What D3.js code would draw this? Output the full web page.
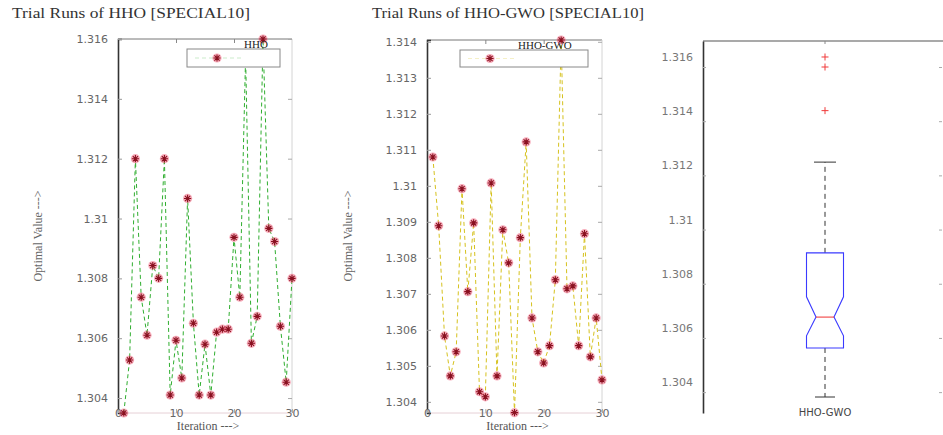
<!DOCTYPE html>
<html>
<head>
<meta charset="utf-8">
<script src="https://cdn.jsdelivr.net/npm/d3@7"></script>
<style>
  body { margin: 0; background: #fff; }
  svg { display: block; }
</style>
</head>
<body>
<svg id="chart" width="943" height="435"></svg>
<script>
// ---------- DATA ----------
const iterations = d3.range(1, 31);
const hhoValues = [1.3035, 1.30527, 1.3120, 1.30737, 1.3061, 1.30843, 1.3080, 1.3120, 1.3041, 1.30593,
                   1.30467, 1.31067, 1.3065, 1.3041, 1.3058, 1.3041, 1.3062, 1.3063, 1.3063, 1.30937,
                   1.30737, 1.3154, 1.30583, 1.30673, 1.3160, 1.30967, 1.30923, 1.3064, 1.30453, 1.3080];
const hhoGwoValues = [1.3108, 1.30889, 1.30583, 1.30472, 1.30539, 1.30992, 1.30706, 1.30897, 1.30428, 1.30414,
                      1.31008, 1.30472, 1.30878, 1.30786, 1.3037, 1.30856, 1.31122, 1.30633, 1.30539, 1.30508,
                      1.30556, 1.30739, 1.31405, 1.30714, 1.30722, 1.30556, 1.30867, 1.30525, 1.30633, 1.30461];
const hhoYTicks = [1.304, 1.306, 1.308, 1.310, 1.312, 1.314, 1.316];
const gwoYTicks = [1.304, 1.305, 1.306, 1.307, 1.308, 1.309, 1.310, 1.311, 1.312, 1.313, 1.314];
const boxYTicks = [1.304, 1.306, 1.308, 1.310, 1.312, 1.314, 1.316];
const xTicks = [0, 10, 20, 30];
const boxCategory = ["HHO-GWO"];
// boxplot statistics
const boxWhiskerLow = [1.30345];
const boxQ1 = [1.30526];
const boxNotchLow = [1.30571];
const boxMedian = [1.30640];
const boxNotchHigh = [1.30715];
const boxQ3 = [1.30877];
const boxWhiskerHigh = [1.31212];
const boxOutliers = [1.3160, 1.31563, 1.31402];
const titles = ["Trial Runs of HHO [SPECIAL10]", "Trial Runs of HHO-GWO [SPECIAL10]"];
const legendNames = ["HHO", "HHO-GWO"];

// ---------- DRAW ----------
const svg = d3.select("#chart");
svg.append("rect").attr("width", 943).attr("height", 435).attr("fill", "#fff");

const fmt = d => {
  let s = d.toFixed(3);
  s = s.replace(/0+$/, "");
  return s;
};
const tickFont = "'DejaVu Sans', sans-serif";
const serif = "'Liberation Serif', 'DejaVu Serif', serif";

function drawMarker(g, x, y) {
  g.append("circle").attr("cx", x).attr("cy", y).attr("r", 4.6)
    .attr("fill", "#f06a84").attr("opacity", 0.55);
  const r = 3.6, d = r * 0.72;
  const p = `M${x - r},${y}L${x + r},${y}M${x},${y - r}L${x},${y + r}` +
            `M${x - d},${y - d}L${x + d},${y + d}M${x - d},${y + d}L${x + d},${y - d}`;
  g.append("path").attr("d", p).attr("stroke", "#8a1020").attr("stroke-width", 1.1).attr("fill", "none");
}

function linePanel(opts) {
  const { values, x0, x1, yTop, yBot, yDomain, yTicks, color, title, titleX, titleLen, legendName, legend, ylabX } = opts;
  const x = d3.scaleLinear().domain([0, 30]).range([x0, x1]);
  const y = d3.scaleLinear().domain(yDomain).range([yBot, yTop]);
  const g = svg.append("g");

  // frame
  g.append("line").attr("x1", x0).attr("x2", x1).attr("y1", yTop).attr("y2", yTop).attr("stroke", "#777").attr("stroke-width", 1);
  g.append("line").attr("x1", x1).attr("x2", x1).attr("y1", yTop).attr("y2", yBot).attr("stroke", "#d4d4d4").attr("stroke-width", 1);
  g.append("line").attr("x1", x0).attr("x2", x1).attr("y1", yBot).attr("y2", yBot).attr("stroke", "#e6d0d6").attr("stroke-width", 1);

  // y axis
  const yAxis = d3.axisLeft(y).tickValues(yTicks).tickFormat(fmt).tickSize(-4).tickPadding(10);
  const ya = g.append("g").attr("transform", `translate(${x0},0)`).call(yAxis);
  ya.select(".domain").attr("stroke", "#333").attr("stroke-width", 1.6);
  ya.selectAll(".tick line").attr("stroke", "#999");
  ya.selectAll("text").attr("fill", "#666").style("font-family", tickFont).style("font-size", "11px");
  // right ticks
  const yr = g.append("g").attr("transform", `translate(${x1},0)`)
    .call(d3.axisRight(y).tickValues(yTicks).tickFormat("").tickSize(-4));
  yr.select(".domain").remove();
  yr.selectAll(".tick line").attr("stroke", "#aaa");

  // x axis labels
  const xa = g.append("g").attr("transform", `translate(0,${yBot})`)
    .call(d3.axisBottom(x).tickValues(xTicks).tickFormat(d3.format("d")).tickSize(-4).tickPadding(-4));
  xa.select(".domain").remove();
  xa.selectAll(".tick line").attr("stroke", "#aaa");
  xa.selectAll("text").attr("fill", "#666").style("font-family", tickFont).style("font-size", "11px");
  // top ticks
  const xt = g.append("g").attr("transform", `translate(0,${yTop})`)
    .call(d3.axisTop(x).tickValues([10, 20]).tickFormat("").tickSize(-4));
  xt.select(".domain").remove();
  xt.selectAll(".tick line").attr("stroke", "#888");

  // series line
  const line = d3.line().x((d, i) => x(iterations[i])).y(d => y(d));
  g.append("path").datum(values).attr("d", line)
    .attr("fill", "none").attr("stroke", color).attr("stroke-width", 1).attr("stroke-dasharray", "4,3");
  values.forEach((v, i) => drawMarker(g, x(iterations[i]), y(v)));

  // legend
  g.append("rect").attr("x", legend[0]).attr("y", legend[1]).attr("width", legend[2]).attr("height", legend[3])
    .attr("fill", "#fff").attr("stroke", "#888").attr("stroke-width", 1);
  g.append("line").attr("x1", legend[0] + 8).attr("x2", legend[4] + 24).attr("y1", legend[1] + legend[3] / 2).attr("y2", legend[1] + legend[3] / 2)
    .attr("stroke", color).attr("stroke-opacity", 0.25).attr("stroke-dasharray", "4,3");
  drawMarker(g, legend[4], legend[1] + legend[3] / 2);
  g.append("text").attr("x", legend[5]).attr("y", legend[1] - 1)
    .attr("fill", "#222").style("font-family", serif).style("font-size", "11px").text(legendName);

  // title
  g.append("text").attr("x", titleX).attr("y", 18).attr("textLength", titleLen).attr("lengthAdjust", "spacingAndGlyphs")
    .attr("fill", "#333").style("font-family", serif).style("font-size", "14px").text(title);
  // axis labels
  g.append("text").attr("transform", `translate(${ylabX},236) rotate(-90)`).attr("text-anchor", "middle")
    .attr("fill", "#666").style("font-family", serif).style("font-size", "12px").text("Optimal Value --->");
  g.append("text").attr("x", (x0 + x1) / 2 + 3).attr("y", 430).attr("text-anchor", "middle")
    .attr("fill", "#555").style("font-family", serif).style("font-size", "12px").text("Iteration --->");
}

linePanel({
  values: hhoValues, x0: 118, x1: 292, yTop: 39, yBot: 413, yDomain: [1.3035, 1.316],
  yTicks: hhoYTicks, color: "#2fae2f", title: titles[0], titleX: 12, titleLen: 238,
  legendName: legendNames[0], legend: [187, 49, 93, 18, 217, 244], ylabX: 42
});
linePanel({
  values: hhoGwoValues, x0: 427, x1: 602, yTop: 40, yBot: 413, yDomain: [1.30369, 1.31405],
  yTicks: gwoYTicks, color: "#d6c21e", title: titles[1], titleX: 372, titleLen: 272,
  legendName: legendNames[1], legend: [460, 50, 128, 17, 490, 518], ylabX: 352
});

// ---------- BOXPLOT PANEL ----------
(function () {
  const x0 = 703, x1 = 947, yTop = 41, yBot = 413;
  const y = d3.scaleLinear().domain([1.30286, 1.31659]).range([yBot, yTop]);
  const x = d3.scalePoint().domain(boxCategory).range([x0, x1]).padding(0.5);
  const g = svg.append("g");
  const tickShift = 10;

  g.append("line").attr("x1", x0).attr("x2", 943).attr("y1", yTop).attr("y2", yTop).attr("stroke", "#555").attr("stroke-width", 1.2);
  const ya = g.append("g").attr("transform", `translate(${x0},0)`)
    .call(d3.axisLeft(y).tickValues(boxYTicks).tickFormat(fmt).tickSize(0).tickPadding(10));
  ya.select(".domain").attr("stroke", "#333").attr("stroke-width", 1.6);
  ya.selectAll("text").attr("fill", "#777").style("font-family", tickFont).style("font-size", "11px");
  // tick marks (drawn slightly below the labels as in the picture)
  const tl = g.append("g").attr("transform", `translate(${x0},${tickShift})`)
    .call(d3.axisLeft(y).tickValues(boxYTicks).tickFormat("").tickSize(-3));
  tl.select(".domain").remove();
  tl.selectAll(".tick line").attr("stroke", "#aaa");
  const tr = g.append("g").attr("transform", `translate(942,${tickShift})`)
    .call(d3.axisRight(y).tickValues(boxYTicks).tickFormat("").tickSize(-3));
  tr.select(".domain").remove();
  tr.selectAll(".tick line").attr("stroke", "#aaa");
  // top tick at category
  g.append("line").attr("x1", x(boxCategory[0])).attr("x2", x(boxCategory[0])).attr("y1", yTop).attr("y2", yTop + 3).attr("stroke", "#888");

  boxCategory.forEach((c, i) => {
    const cx = x(c);
    const hw = 18.5, nw = 9;
    // whiskers
    g.append("line").attr("x1", cx).attr("x2", cx).attr("y1", y(boxQ3[i])).attr("y2", y(boxWhiskerHigh[i]))
      .attr("stroke", "#333").attr("stroke-dasharray", "5,4");
    g.append("line").attr("x1", cx).attr("x2", cx).attr("y1", y(boxQ1[i])).attr("y2", y(boxWhiskerLow[i]))
      .attr("stroke", "#333").attr("stroke-dasharray", "5,4");
    g.append("line").attr("x1", cx - 11).attr("x2", cx + 11).attr("y1", y(boxWhiskerHigh[i])).attr("y2", y(boxWhiskerHigh[i])).attr("stroke", "#333");
    g.append("line").attr("x1", cx - 10).attr("x2", cx + 10).attr("y1", y(boxWhiskerLow[i])).attr("y2", y(boxWhiskerLow[i])).attr("stroke", "#333");
    // notched box
    const L = cx - hw, R = cx + hw;
    const pts = [[L, y(boxQ3[i])], [L, y(boxNotchHigh[i])], [cx - nw, y(boxMedian[i])], [L, y(boxNotchLow[i])],
                 [L, y(boxQ1[i])], [R, y(boxQ1[i])], [R, y(boxNotchLow[i])], [cx + nw, y(boxMedian[i])],
                 [R, y(boxNotchHigh[i])], [R, y(boxQ3[i])]];
    g.append("path").attr("d", d3.line()(pts) + "Z").attr("fill", "none").attr("stroke", "#3a3aff").attr("stroke-width", 1.1);
    g.append("line").attr("x1", cx - nw).attr("x2", cx + nw).attr("y1", y(boxMedian[i])).attr("y2", y(boxMedian[i]))
      .attr("stroke", "#f03030").attr("stroke-width", 1);
    // outliers
    boxOutliers.forEach(v => {
      const yy = y(v);
      g.append("path").attr("d", `M${cx - 3.5},${yy}L${cx + 3.5},${yy}M${cx},${yy - 3.5}L${cx},${yy + 3.5}`)
        .attr("stroke", "#f03a3a").attr("stroke-width", 1);
    });
    g.append("text").attr("x", cx).attr("y", 416).attr("text-anchor", "middle")
      .attr("fill", "#444").style("font-family", tickFont).style("font-size", "10px").text(c);
  });
})();
</script>
</body>
</html>
